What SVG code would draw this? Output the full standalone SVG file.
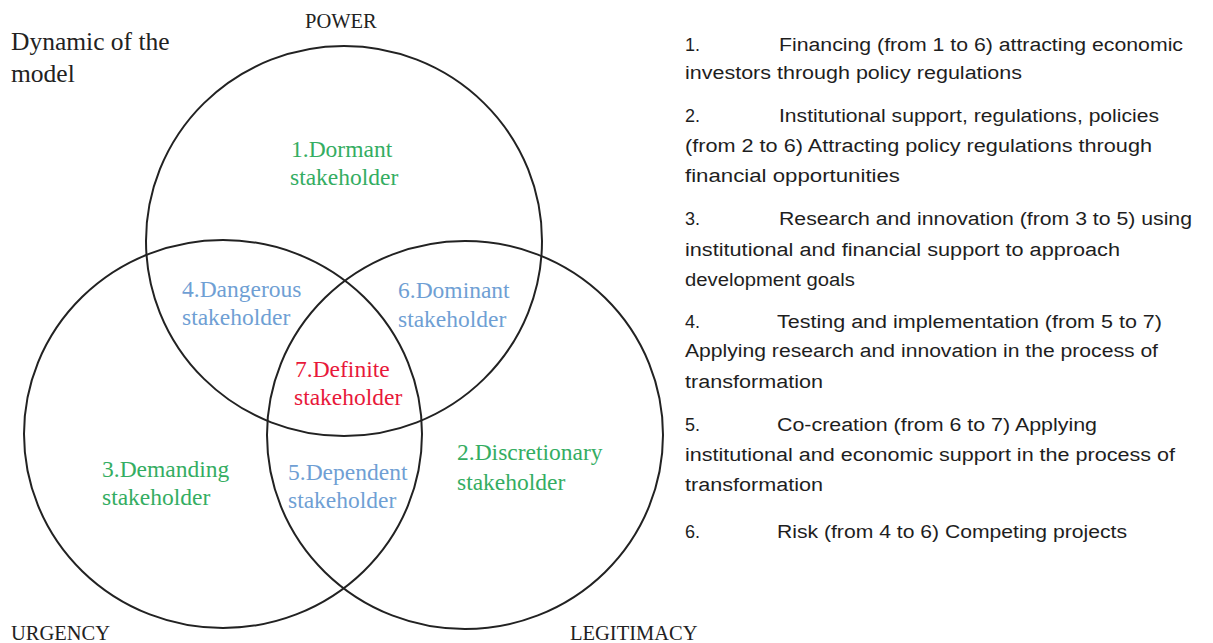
<svg xmlns="http://www.w3.org/2000/svg" width="1213" height="643" viewBox="0 0 1213 643">
<style>
.c{fill:none;stroke:#222;stroke-width:2}
.s{font-family:"Liberation Serif","Times New Roman",serif}
.ax{font-size:20.5px;fill:#222}
.lb{font-size:23.5px;text-anchor:start}
.g{fill:#34ad62}
.b{fill:#6f9fd4}
.r{fill:#e8183a}
.t{font-family:"Liberation Sans",Arial,sans-serif;font-size:18px;fill:#1e1e1e}
</style>
<rect width="1213" height="643" fill="#fff"/>
<g id="title"><text class="s" x="11" y="50" font-size="25.5" fill="#222">Dynamic of the</text><text class="s" x="11" y="82" font-size="25.5" fill="#222">model</text></g>
<g id="power"><ellipse class="c" cx="344" cy="241" rx="198" ry="195"/><text class="s ax" x="305" y="28">POWER</text></g>
<g id="urgency"><ellipse class="c" cx="223" cy="434" rx="199" ry="194"/><text class="s ax" x="11" y="640">URGENCY</text></g>
<g id="legitimacy"><ellipse class="c" cx="465" cy="435" rx="198" ry="194"/><text class="s ax" x="570" y="640">LEGITIMACY</text></g>
<g id="regions">
<g id="r1"><text class="s lb g" x="291" y="157">1.Dormant</text><text class="s lb g" x="290" y="185">stakeholder</text></g>
<g id="r4"><text class="s lb b" x="182" y="297">4.Dangerous</text><text class="s lb b" x="182" y="325">stakeholder</text></g>
<g id="r6"><text class="s lb b" x="398" y="298">6.Dominant</text><text class="s lb b" x="398" y="327">stakeholder</text></g>
<g id="r7"><text class="s lb r" x="295" y="377">7.Definite</text><text class="s lb r" x="294" y="405">stakeholder</text></g>
<g id="r3"><text class="s lb g" x="102" y="477">3.Demanding</text><text class="s lb g" x="102" y="505">stakeholder</text></g>
<g id="r5"><text class="s lb b" x="288" y="480">5.Dependent</text><text class="s lb b" x="288" y="508">stakeholder</text></g>
<g id="r2"><text class="s lb g" x="457" y="460">2.Discretionary</text><text class="s lb g" x="457" y="490">stakeholder</text></g>
</g>
<g id="list" class="t">
<text x="685" y="51">1.</text><text x="779" y="51" textLength="404" lengthAdjust="spacingAndGlyphs">Financing (from 1 to 6) attracting economic</text>
<text x="685" y="79" textLength="337" lengthAdjust="spacingAndGlyphs">investors through policy regulations</text>
<text x="685" y="122">2.</text><text x="779" y="122" textLength="380" lengthAdjust="spacingAndGlyphs">Institutional support, regulations, policies</text>
<text x="685" y="152" textLength="467" lengthAdjust="spacingAndGlyphs">(from 2 to 6) Attracting policy regulations through</text>
<text x="685" y="182" textLength="215" lengthAdjust="spacingAndGlyphs">financial opportunities</text>
<text x="685" y="225">3.</text><text x="779" y="225" textLength="413" lengthAdjust="spacingAndGlyphs">Research and innovation (from 3 to 5) using</text>
<text x="685" y="256" textLength="435" lengthAdjust="spacingAndGlyphs">institutional and financial support to approach</text>
<text x="685" y="286" textLength="170" lengthAdjust="spacingAndGlyphs">development goals</text>
<text x="685" y="328">4.</text><text x="777" y="328" textLength="385" lengthAdjust="spacingAndGlyphs">Testing and implementation (from 5 to 7)</text>
<text x="685" y="357" textLength="473" lengthAdjust="spacingAndGlyphs">Applying research and innovation in the process of</text>
<text x="685" y="388" textLength="138" lengthAdjust="spacingAndGlyphs">transformation</text>
<text x="685" y="431">5.</text><text x="777" y="431" textLength="320" lengthAdjust="spacingAndGlyphs">Co-creation (from 6 to 7) Applying</text>
<text x="685" y="461" textLength="490" lengthAdjust="spacingAndGlyphs">institutional and economic support in the process of</text>
<text x="685" y="491" textLength="138" lengthAdjust="spacingAndGlyphs">transformation</text>
<text x="685" y="538">6.</text><text x="777" y="538" textLength="350" lengthAdjust="spacingAndGlyphs">Risk (from 4 to 6) Competing projects</text>
</g>
</svg>
